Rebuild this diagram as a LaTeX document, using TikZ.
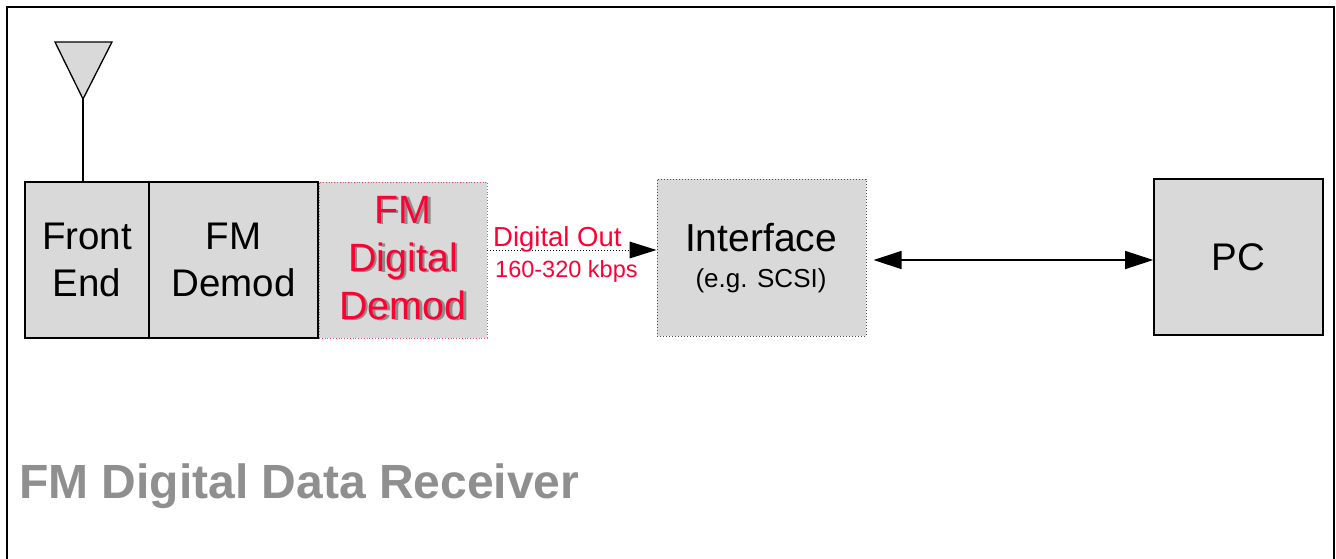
\documentclass[tikz,border=0pt]{standalone}
\usepackage{fontspec}
\setmainfont{Liberation Sans}
\usetikzlibrary{arrows.meta}
\definecolor{boxgray}{HTML}{D9D9D9}
\definecolor{redtext}{HTML}{FF0033}
\definecolor{reddot}{HTML}{FF4070}
\definecolor{titlegray}{HTML}{8F8F8F}
\definecolor{shadowgray}{HTML}{8C8C8C}
\tikzset{
  blk/.style={draw=black, line width=1.3pt, fill=boxgray, inner sep=0pt, align=center,
    font=\fontsize{38.5}{47}\selectfont},
  lbl/.style={inner sep=0pt, align=center, font=\fontsize{39.5}{48}\selectfont},
  smalllbl/.style={inner sep=0pt, text=redtext},
}
\begin{document}
\begin{tikzpicture}[x=1pt,y=-1pt]
\useasboundingbox (0,0) rectangle (1336,558);
\fill[white] (0,0) rectangle (1336,558);
% outer frame
\draw[line width=2pt] (7,560) -- (7,7) -- (1334,7) -- (1334,560);
% blocks
\node[blk, minimum width=124pt, minimum height=156pt] (fe) at (87,260) {Front\\End};
\node[blk, minimum width=169pt, minimum height=156pt] (fmd) at (233.5,260) {FM\\Demod};
\node[draw=reddot, dotted, line width=0.8pt, fill=boxgray, minimum width=168pt, minimum height=156pt, inner sep=0pt] (fdd) at (403,260) {};
\node[lbl, text=shadowgray] at ([shift={(2.5,-0.5)}]fdd.center) {FM\\Digital\\Demod};
\node[lbl, text=redtext] (fddtxt) at ([yshift=2pt]fdd.center) {FM\\Digital\\Demod};
\node[draw=black!70, dotted, line width=1pt, fill=boxgray, minimum width=209pt, minimum height=157pt, inner sep=0pt] (intf) at (761.5,257.5) {};
\node[inner sep=0pt, anchor=base, font=\fontsize{39}{46}\selectfont] (intft) at (761,251) {Interface};
\node[inner sep=0pt, anchor=base, font=\fontsize{26}{30}\selectfont] (intfs) at (761,287) {(e.g. SCSI)};
\node[blk, line width=1.6pt, minimum width=169pt, minimum height=156pt] (pc) at (1238.5,257) {PC};
% antenna
\coordinate (ant) at (83,99);
\filldraw[fill=boxgray, draw=black, line width=1.3pt, line join=miter] (55,42) -- (112,42) -- (ant) -- cycle;
\draw[line width=1.3pt] (ant) -- (ant |- fe.north);
% dotted arrow
\coordinate (ya) at (0,250);
\draw[dotted, line width=1pt] (fdd.east |- ya) -- ([xshift=-26pt]intf.west |- ya);
\fill (intf.west |- ya) -- ++(-27,-8.5) -- ++(0,17) -- cycle;
\node[smalllbl, anchor=base west, font=\fontsize{27.5}{30}\selectfont] (dout) at (493,246) {Digital Out};
\node[smalllbl, anchor=base west, font=\fontsize{23.5}{28}\selectfont] (rate) at (495,277) {160-320 kbps};
% double arrow
\coordinate (yb) at (0,260);
\draw[line width=1.3pt, {Triangle[length=28pt,width=18pt]}-{Triangle[length=28pt,width=18pt]}] ([xshift=7pt]intf.east |- yb) -- (pc.west |- yb);
% title
\node[inner sep=0pt, anchor=base west, text=titlegray, font=\bfseries\fontsize{48}{56}\selectfont] (title) at (19,498) {FM Digital Data Receiver};
\end{tikzpicture}
\end{document}
